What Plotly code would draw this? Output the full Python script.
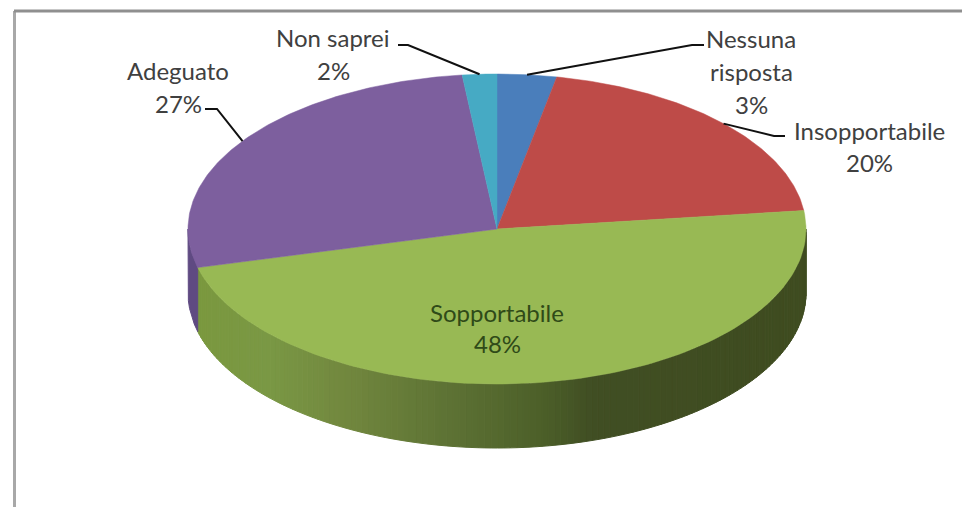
import numpy as np
import plotly.graph_objects as go

# Data
categories = ["Nessuna risposta", "Insopportabile", "Sopportabile", "Adeguato", "Non saprei"]
values = [3.1, 20.0, 47.9, 27.2, 1.8]
colors = ["#4A7EBB", "#BE4B48", "#98B954", "#7D5F9E", "#46AAC4"]
wall_dark = ["#2F4A6E", "#7A2F2D", "#3F4C20", "#5F4A82", "#2B6A7A"]

# label layout: lines of each category label, pixel centres of the lines
label_lines = {
    "Nessuna risposta": (["Nessuna", "risposta"], 751, [38, 71, 104]),
    "Insopportabile": (["Insopportabile"], 869, [130, 162]),
    "Sopportabile": (["Sopportabile"], 497, [312, 343]),
    "Adeguato": (["Adeguato"], 178, [70, 103]),
    "Non saprei": (["Non saprei"], 333, [37, 70]),
}
# leader elbows: label end, elbow (slice end is computed from the data)
leaders = {
    "Nessuna risposta": [(704, 45), (692, 45)],
    "Insopportabile": [(785, 136), (774, 136)],
    "Adeguato": [(205, 109), (217, 109)],
    "Non saprei": [(398, 45), (408, 45)],
}

# Pie geometry
CX, CY, RX, RY, DEPTH = 497.0, 229.0, 309.0, 155.0, 64.0


def rim(theta, dy=0.0):
    return CX + RX * np.sin(theta), CY - RY * np.cos(theta) + dy


fractions = np.array(values) / sum(values)
edges = np.concatenate([[0.0], np.cumsum(fractions)]) * 2 * np.pi

# gradient of the side wall of the big slice, by horizontal position
grad_x = [198, 269, 340, 447, 545, 590, 806]
grad_rgb = np.array([
    [122, 152, 63], [122, 152, 69], [115, 137, 63], [94, 115, 53],
    [76, 95, 41], [65, 79, 36], [63, 76, 32],
])


def grad_color(x):
    r = [int(np.interp(x, grad_x, grad_rgb[:, i])) for i in range(3)]
    return f"rgb({r[0]},{r[1]},{r[2]})"


fig = go.Figure()


def wall_strip(t0, t1, col):
    ts = np.linspace(t0, t1, 6)
    x1, y1 = rim(ts)
    x2, y2 = rim(ts[::-1], DEPTH)
    fig.add_trace(go.Scatter(
        x=np.concatenate([x1, x2, x1[:1]]), y=np.concatenate([y1, y2, y1[:1]]),
        mode="lines", fill="toself", fillcolor=col,
        line=dict(color=col, width=1), hoverinfo="skip", showlegend=False))


# side walls on the visible (front) half of the rim
front_lo, front_hi = np.pi / 2, 3 * np.pi / 2
for i in range(len(values)):
    lo, hi = max(edges[i], front_lo), min(edges[i + 1], front_hi)
    if hi <= lo:
        continue
    if categories[i] == "Sopportabile":
        steps = np.linspace(lo, hi, 141)
        for a, b in zip(steps[:-1], steps[1:]):
            xm, _ = rim((a + b) / 2)
            wall_strip(a, b, grad_color(xm))
    else:
        wall_strip(lo, hi, wall_dark[i])

# top faces
for i, cat in enumerate(categories):
    ts = np.linspace(edges[i], edges[i + 1], 120)
    x, y = rim(ts)
    fig.add_trace(go.Scatter(
        x=np.concatenate([[CX], x, [CX]]), y=np.concatenate([[CY], y, [CY]]),
        mode="lines", fill="toself", fillcolor=colors[i],
        line=dict(color=colors[i], width=0.5), name=cat, showlegend=False,
        hovertemplate=f"{cat}: {values[i]:.0f}%<extra></extra>"))

# leader lines
for i, cat in enumerate(categories):
    if cat not in leaders:
        continue
    xe, ye = rim((edges[i] + edges[i + 1]) / 2)
    (x0, y0), (x1, y1) = leaders[cat]
    fig.add_trace(go.Scatter(
        x=[x0, x1, xe], y=[y0, y1, ye], mode="lines",
        line=dict(color="#111111", width=2), hoverinfo="skip", showlegend=False))

# labels
annotations = []
for i, cat in enumerate(categories):
    lines, xc, ys = label_lines[cat]
    texts = lines + [f"{round(values[i])}%"]
    col = "#2F4A18" if cat == "Sopportabile" else "#404040"
    for t, yc in zip(texts, ys):
        annotations.append(dict(
            x=xc, y=yc, text=t, showarrow=False, xanchor="center", yanchor="middle",
            font=dict(family="Lato", size=24, color=col)))

# chart frame
shapes = [
    dict(type="line", x0=14.5, y0=11, x1=14.5, y1=600, line=dict(color="#A8A8A8", width=3), layer="below"),
    dict(type="line", x0=14, y0=11, x1=1000, y1=11, line=dict(color="#8F8F8F", width=3), layer="below"),
]

fig.update_layout(
    width=962, height=507, margin=dict(l=0, r=0, t=0, b=0),
    paper_bgcolor="white", plot_bgcolor="white",
    xaxis=dict(range=[0, 962], visible=False, fixedrange=True),
    yaxis=dict(range=[507, 0], visible=False, fixedrange=True),
    annotations=annotations, shapes=shapes, showlegend=False)

fig.write_html(
    "out.html",
    config={"displayModeBar": False},
    post_script="document.body.style.margin='0';document.documentElement.style.overflow='hidden';",
)
